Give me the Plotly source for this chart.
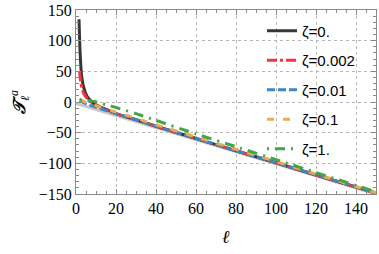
import plotly.graph_objects as go

# ---- data ----
ell_gray = [0, 150]
t_gray = [-2.5, -150]

ell_z0 = [1.5, 1.75, 2, 2.5, 3, 4, 5, 6, 8, 10, 15, 20, 30, 40, 60, 80, 100, 120, 150]
t_z0 = [135, 108, 85, 55, 38, 22, 13, 7, 0, -4.5, -12, -19, -29, -39.5, -59.5, -79.5, -99, -119, -148.5]

ell_z002 = [1.8, 2, 2.5, 3, 3.5, 4, 5, 6, 8, 10, 15, 20, 30, 40, 60, 80, 100, 120, 150]
t_z002 = [50, 42, 30, 22, 17, 13, 8, 4, -1, -5.5, -12.5, -19, -29, -39.5, -59.5, -79.5, -99, -119, -148.5]

ell_z01 = [1.8, 3, 5, 10, 20, 30, 40, 60, 80, 100, 120, 150]
t_z01 = [2.5, 0.5, -3, -8.5, -19, -29, -39.5, -59.5, -79.5, -99, -119, -148.5]

ell_z1 = [1.8, 3, 5, 10, 20, 30, 40, 60, 80, 100, 120, 150]
t_z1 = [4, 2.5, -1, -6, -16.5, -26.5, -37, -57, -77, -97, -117.5, -148]

ell_z10 = [1.8, 3, 5, 9, 15, 20, 30, 40, 60, 82, 100, 120, 150]
t_z10 = [3, 4, 3, 1, -4.5, -9, -19, -30, -52, -75, -94, -115, -146.5]

names = ["ζ=0.", "ζ=0.002", "ζ=0.01", "ζ=0.1", "ζ=1."]
xs = [ell_z0, ell_z002, ell_z01, ell_z1, ell_z10]
ys = [t_z0, t_z002, t_z01, t_z1, t_z10]
colors = ["#3a3535", "#f0363e", "#3b87c3", "#eeaa52", "#45a445"]
dashes = ["solid", "10px,3px,3px,3px", "8px,3px", "7px,9px", "2px,6px,10px,6px"]

SERIF = "Liberation Serif, Times New Roman, serif"

fig = go.Figure()
fig.add_trace(go.Scatter(x=ell_gray, y=t_gray, mode="lines",
                         line=dict(color="#c8c8c8", width=3), showlegend=False, hoverinfo="skip"))
for i, (x, y, n, c, d) in enumerate(zip(xs, ys, names, colors, dashes)):
    fig.add_trace(go.Scatter(x=x, y=y, mode="lines", name=n, legendgroup=f"g{i}",
                             line=dict(color=c, width=3, dash=d, shape="spline", smoothing=0.6)))

axis_common = dict(
    showline=True, linecolor="#8a8a8a", linewidth=1, mirror="ticks",
    ticks="inside", ticklen=5, tickcolor="#8a8a8a",
    showgrid=True, gridcolor="#b8b8b8", griddash="dot", gridwidth=1,
    zeroline=False, automargin=False,
    tickfont=dict(family=SERIF, size=16, color="black"),
)

fig.update_xaxes(range=[0, 150], tickvals=[0, 20, 40, 60, 80, 100, 120, 140],
                 minor=dict(dtick=5, ticks="inside", ticklen=3, tickcolor="#8a8a8a", showgrid=False),
                 title=dict(text="<b><i>ℓ</i></b>", font=dict(family=SERIF, size=18, color="black"),
                            standoff=14),
                 **axis_common)
fig.update_yaxes(range=[-150, 150], tickvals=[-150, -100, -50, 0, 50, 100, 150],
                 ticktext=["−150", "−100", "−50", "0", "50", "100", "150"],
                 minor=dict(dtick=10, ticks="inside", ticklen=3, tickcolor="#8a8a8a", showgrid=False),
                 title=dict(text="<b><i>𝒯</i></b><sub><i>ℓ</i></sub><sup><i>a</i></sup>",
                            font=dict(family=SERIF, size=17, color="black"), standoff=8),
                 **axis_common)

fig.update_layout(
    width=379, height=254,
    margin=dict(l=76, r=3, t=10, b=60),
    paper_bgcolor="white", plot_bgcolor="white",
    legend=dict(x=0.62, y=0.975, xanchor="left", yanchor="top",
                bgcolor="rgba(255,255,255,0)", borderwidth=0,
                font=dict(family="Liberation Sans", size=15, color="black"),
                tracegroupgap=7, itemwidth=30),
    showlegend=True,
)

fig.write_html("out.html", config={"displayModeBar": False},
               post_script="document.body.style.margin='0';document.body.style.overflow='hidden';")
